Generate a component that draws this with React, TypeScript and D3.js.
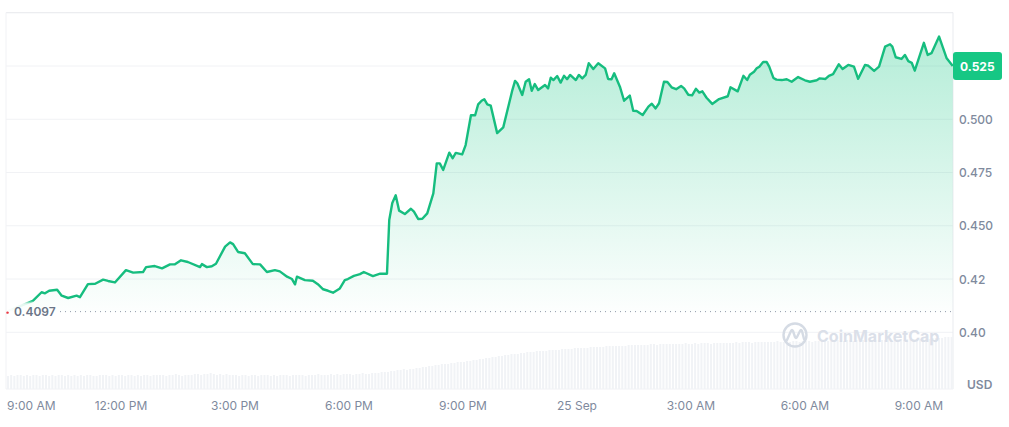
import React from "react";
import * as d3 from "d3";

const hours = [0,.68,.91,1,1.11,1.32,1.44,1.61,1.83,1.92,2.13,2.32,2.53,2.66,2.84,3.13,3.32,3.58,3.66,3.89,4.08,4.29,4.42,4.58,4.76,5.08,5.13,5.26,5.39,5.5,5.74,5.87,5.95,6.08,6.26,6.47,6.66,6.84,7.05,7.18,7.37,7.5,7.58,7.63,7.84,8.05,8.18,8.32,8.45,8.58,8.76,8.89,8.97,9.13,9.29,9.39,9.63,9.82,10,10.06,10.14,10.23,10.32,10.47,10.63,10.71,10.82,10.93,11.06,11.22,11.31,11.39,11.48,11.64,11.73,11.81,11.98,12.07,12.21,12.32,12.4,12.49,12.56,12.64,12.73,12.9,13.06,13.3,13.37,13.43,13.56,13.65,13.74,13.81,13.89,13.98,14.16,14.24,14.31,14.38,14.48,14.57,14.66,14.74,14.82,14.97,15.05,15.14,15.23,15.31,15.43,15.56,15.74,15.82,15.91,15.98,16.13,16.24,16.39,16.48,16.57,16.73,16.88,16.97,17.07,17.16,17.29,17.38,17.49,17.61,17.74,17.82,17.93,18.03,18.13,18.22,18.3,18.41,18.56,18.74,18.97,19.04,19.23,19.38,19.48,19.55,19.66,19.73,19.8,19.9,19.99,20.06,20.17,20.25,20.39,20.52,20.65,20.82,21,21.13,21.31,21.39,21.54,21.63,21.74,21.89,21.99,22.14,22.29,22.4,22.58,22.67,22.82,22.95,23.11,23.24,23.3,23.39,23.54,23.63,23.72,23.81,23.89,24.13,24.23,24.33,24.53,24.73,24.89];
const prices = [.4097,.4148,.4188,.4183,.4195,.42,.4172,.4161,.4172,.4165,.4226,.4228,.4247,.4241,.4234,.4292,.428,.4283,.4306,.4311,.43,.4319,.4319,.4338,.433,.4306,.432,.4306,.431,.4322,.4402,.4422,.4414,.4377,.4371,.432,.4319,.4283,.4292,.4286,.4261,.425,.4225,.4261,.4245,.4242,.4226,.4202,.4195,.4186,.4206,.4245,.425,.4265,.4273,.4283,.4264,.4275,.4275,.4527,.4607,.4643,.4571,.4555,.458,.4566,.4532,.4533,.4558,.4652,.4793,.4793,.4762,.4843,.4817,.4842,.4835,.4879,.5019,.5019,.507,.5087,.5094,.507,.5064,.4935,.4962,.5137,.518,.5169,.5114,.5176,.5188,.5134,.5165,.5137,.5161,.5145,.5195,.5184,.5203,.5172,.5204,.5188,.5208,.5184,.5208,.5192,.5208,.5263,.5236,.5263,.5239,.5189,.5188,.5216,.5153,.5087,.5111,.504,.5039,.502,.5059,.5073,.5051,.5075,.5176,.5175,.515,.5141,.5156,.5145,.5115,.5112,.5143,.5125,.5131,.5101,.5072,.5095,.5108,.515,.5131,.5204,.5184,.5209,.5223,.5239,.5247,.5269,.5269,.5247,.5194,.5186,.5184,.5188,.5176,.5198,.5183,.5176,.5183,.5192,.5189,.5204,.5212,.5258,.5236,.5255,.5247,.519,.5255,.5251,.5227,.5247,.5341,.5352,.5341,.5291,.5283,.5302,.5273,.5265,.5228,.5359,.5302,.531,.5388,.5286,.525];
// one bar every five minutes
const volumes = [
13,14,13,14,14,13,14,13,14,14,13,14,
14,13,14,13,14,14,13,14,13,14,13,14,
13,14,14,13,13,14,14,14,13,14,13,14,
14,13,14,14,13,14,13,14,14,13,14,14,
14,14,13,14,14,15,14,13,14,14,14,15,
15,14,15,15,16,15,14,15,14,15,14,14,
14,13,14,14,13,14,14,13,14,14,14,13,
14,13,14,14,14,13,14,14,14,14,13,14,
14,14,15,14,14,14,15,14,15,14,15,15,
15,14,15,15,16,15,15,16,16,16,17,17,
17,18,18,19,19,20,19,20,20,21,21,22,
22,23,23,24,24,25,25,25,26,26,27,27,
27,28,28,29,29,30,30,31,31,32,32,33,
33,34,34,35,35,35,36,36,37,37,37,38,
38,38,38,39,39,39,39,40,40,40,40,41,
41,41,41,41,42,42,42,42,42,43,43,43,
43,43,43,43,44,44,44,44,44,44,44,45,
45,44,45,45,45,45,45,45,45,45,46,45,
45,46,45,46,46,46,45,46,46,46,46,46,
46,46,47,46,47,47,47,46,47,47,47,47,
47,47,47,48,47,47,48,47,48,48,47,48,
48,48,47,48,48,48,48,48,48,48,49,48,
48,49,49,48,49,49,49,49,48,49,49,49,
49,49,50,49,49,50,50,49,50,50,50,50,
50,50,51,50,51,51,51,51,52,52,52
];
const tickValues = [.4,.425,.45,.475,.5,.55];
const tickLabels = ["0.40","0.42","0.450","0.475","0.500",""];
const gridValues = [.4,.425,.45,.475,.5,.525,.55];
const timeTicks = [3,6,9,12,15,18,21,24];
const timeLabels = ["12:00 PM","3:00 PM","6:00 PM","9:00 PM","25 Sep","3:00 AM","6:00 AM","9:00 AM"];
const firstTimeLabel = "9:00 AM";
const baseValue = 0.4097;
const baseLabel = "0.4097";
const lastValue = 0.525;
const lastLabel = "0.525";

const x = d3.scaleLinear().domain([0, 24.87]).range([7, 952]);
const y = d3.scaleLinear().domain([0.4, 0.525]).range([332.3, 66]);
const yVol = d3.scaleLinear().domain([0, 60]).range([389, 329]);
const font = "Inter, sans-serif";
const green = "#16c784";
const textGrey = "#808a9d";

export default function App() {
  const pts = hours.map((h, i) => [h, prices[i]] as [number, number]);
  const line = d3.line<[number, number]>().x(d => x(d[0])).y(d => y(d[1]))(pts) ?? "";
  const area = d3.area<[number, number]>().x(d => x(d[0])).y0(y(baseValue)).y1(d => y(d[1]))(pts) ?? "";
  const by = y(baseValue);
  return (
    <svg width={1009} height={427} style={{ position: "absolute", left: 0, top: 0, background: "#fff" }} fontFamily={font}>
      <defs>
        <linearGradient id="fill" gradientUnits="userSpaceOnUse" x1="0" x2="0" y1={y(0.5388)} y2={by}>
          <stop offset="0" stopColor={green} stopOpacity={0.32} />
          <stop offset="1" stopColor={green} stopOpacity={0.01} />
        </linearGradient>
        <linearGradient id="stroke" gradientUnits="userSpaceOnUse" x1="0" x2="0" y1={by - 12} y2={by + 2}>
          <stop offset="0" stopColor="#16bd7f" />
          <stop offset="0.08" stopColor="#16bd7f" />
          <stop offset="0.3" stopColor="#16bd7f" stopOpacity={0.12} />
          <stop offset="0.86" stopColor="#16bd7f" stopOpacity={0} />
          <stop offset="0.87" stopColor="#ea3943" />
          <stop offset="1" stopColor="#ea3943" />
        </linearGradient>
      </defs>
      {gridValues.map(v => (
        <line key={v} x1={6} x2={953} y1={y(v)} y2={y(v)} stroke={v === 0.55 ? "#e6e8ec" : "#f1f2f5"} />
      ))}
      <line x1={6} x2={6} y1={12.5} y2={389} stroke="#f1f2f5" />
      <line x1={953} x2={953} y1={12.5} y2={389} stroke="#e9ebef" />
      <line x1={6} x2={953} y1={389} y2={389} stroke="#f1f2f5" />
      {volumes.map((v, i) => (
        <rect key={i} x={x(i / 12)} width={2} y={yVol(v)} height={yVol(0) - yVol(v)} fill="#f1f3f6" />
      ))}
      <path d={area} fill="url(#fill)" />
      <line x1={60} x2={952} y1={by} y2={by} stroke="#8f98a8" strokeWidth={1} strokeDasharray="1 4" />
      <path d={line} fill="none" stroke="url(#stroke)" strokeWidth={2.4} strokeLinejoin="round" />
      <circle cx={7.5} cy={by + 1} r={1.2} fill="#ea3943" />
      <text x={14} y={by + 4.5} fontSize={12} fontWeight={600} fill="#6b7587">{baseLabel}</text>

      {tickValues.map((v, i) => (
        <text key={v} x={959} y={y(v) + 4.5} fontSize={12} fontWeight={500} fill={textGrey}>{tickLabels[i]}</text>
      ))}
      <rect x={953} y={52} width={49} height={28} rx={3} fill={green} />
      <text x={960} y={y(lastValue) + 4.5} fontSize={12} fontWeight={700} fill="#fff">{lastLabel}</text>
      <text x={967} y={389} fontSize={12} fontWeight={600} fill={textGrey}>USD</text>

      <text x={7} y={410} fontSize={12} fill={textGrey}>{firstTimeLabel}</text>
      {timeTicks.map((t, i) => (
        <text key={t} x={x(t)} y={410} fontSize={12} textAnchor="middle" fill={textGrey}>{timeLabels[i]}</text>
      ))}

      <g fill="none" stroke="#d5dbe4" strokeWidth={2.4} strokeLinecap="round" strokeLinejoin="round">
        <circle cx={795} cy={335} r={11.5} />
        <path d="M787 340 L791 331 Q792 329 793 331 L795 337 Q796 339 797 337 L800 331 Q801 329 802 331 L804 339" />
      </g>
      <text x={817} y={342} fontSize={16} fontWeight={700} fill="#dbe0e9">CoinMarketCap</text>
    </svg>
  );
}
